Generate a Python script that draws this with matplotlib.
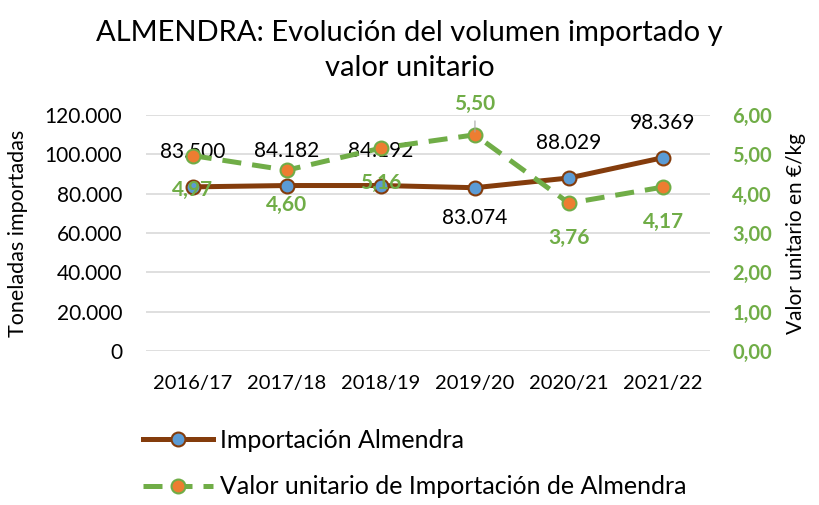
import matplotlib
matplotlib.use("Agg")
import matplotlib.pyplot as plt
from matplotlib.lines import Line2D

plt.rcParams['font.family'] = ['Lato', 'DejaVu Sans']

# data
campaigns = ['2016/17', '2017/18', '2018/19', '2019/20', '2020/21', '2021/22']
toneladas = [83500, 84182, 84192, 83074, 88029, 98369]
valor_unitario = [4.97, 4.60, 5.16, 5.50, 3.76, 4.17]
ton_labels = ['83.500', '84.182', '84.192', '83.074', '88.029', '98.369']
valor_labels = ['4,97', '4,60', '5,16', '5,50', '3,76', '4,17']
left_ticks = [0, 20000, 40000, 60000, 80000, 100000, 120000]
left_tick_labels = ['0', '20.000', '40.000', '60.000', '80.000', '100.000', '120.000']
right_ticks = [0, 1, 2, 3, 4, 5, 6]
right_tick_labels = ['0,00', '1,00', '2,00', '3,00', '4,00', '5,00', '6,00']

BROWN = '#843C0C'
BLUE = '#5B9BD5'
GREEN = '#70AD47'
ORANGE = '#ED7D31'
GRID = '#D9D9D9'

fig = plt.figure(figsize=(8.19, 5.05), dpi=100)
ax = fig.add_axes([0.178, 0.305, 0.689, 0.467])
ax2 = ax.twinx()

x = list(range(len(campaigns)))

ax.set_xlim(-0.5, len(campaigns) - 0.5)
ax.set_ylim(0, 120000)
ax2.set_ylim(0, 6)

for t in left_ticks:
    ax.axhline(t, color=GRID, lw=1.2, zorder=0)

ax.plot(x, toneladas, color=BROWN, lw=3.6, marker='o', ms=10,
        mfc=BLUE, mec=BROWN, mew=1.5, zorder=3, solid_capstyle='round')
ax2.plot(x, valor_unitario, color=GREEN, lw=3.6, ls=(0, (3.8, 2.2)),
         marker='o', ms=10, mfc=ORANGE, mec=GREEN, mew=1.5, zorder=2)

# data labels
for i, (v, lab) in enumerate(zip(toneladas, ton_labels)):
    off = -22 if i == 3 else 25
    ax.annotate(lab, (i, v), xytext=(0, off), textcoords='offset points',
                ha='center', va='center', fontsize=15, color='black', zorder=5)
for i, (v, lab) in enumerate(zip(valor_unitario, valor_labels)):
    off = 22 if i == 3 else -25
    ax2.annotate(lab, (i, v), xytext=(0, off), textcoords='offset points',
                 ha='center', va='center', fontsize=15, color=GREEN,
                 fontweight='bold', zorder=5)
# leader line for the label above 5,50
ax2.annotate('', (3, valor_unitario[3]), xytext=(0, 12), textcoords='offset points',
             arrowprops=dict(arrowstyle='-', color='#A6A6A6', lw=0.8))

ax.set_xticks(x)
ax.set_xticklabels(campaigns, fontsize=14.5)
ax.set_yticks(left_ticks)
ax.set_yticklabels(left_tick_labels, fontsize=15)
ax2.set_yticks(right_ticks)
ax2.set_yticklabels(right_tick_labels, fontsize=14.5, color=GREEN, fontweight='bold')

for a in (ax, ax2):
    for s in a.spines.values():
        s.set_visible(False)
    a.tick_params(length=0)
ax.tick_params(axis='x', pad=17)
ax.tick_params(axis='y', pad=17)
ax2.tick_params(axis='y', pad=16)

ax.set_ylabel('Toneladas importadas', fontsize=15.5, labelpad=12)
ax2.set_ylabel('Valor unitario en €/kg', fontsize=15, rotation=90, labelpad=10)

fig.text(0.5, 0.9, 'ALMENDRA: Evolución del volumen importado y\nvalor unitario',
         ha='center', va='center', fontsize=21, linespacing=1.4)

handles = [
    Line2D([], [], color=BROWN, lw=3.6, marker='o', ms=10, mfc=BLUE, mec=BROWN, mew=1.5),
    Line2D([], [], color=GREEN, lw=3.6, ls=(0, (3.8, 2.2)), marker='o', ms=10,
           mfc=ORANGE, mec=GREEN, mew=1.5),
]
fig.legend(handles, ['Importación Almendra', 'Valor unitario de Importación de Almendra'],
           loc='upper left', bbox_to_anchor=(0.162, 0.171), frameon=False,
           fontsize=18, handlelength=2.8, handletextpad=0.3, labelspacing=0.95,
           borderaxespad=0)

fig.savefig('out.png', dpi=100)
